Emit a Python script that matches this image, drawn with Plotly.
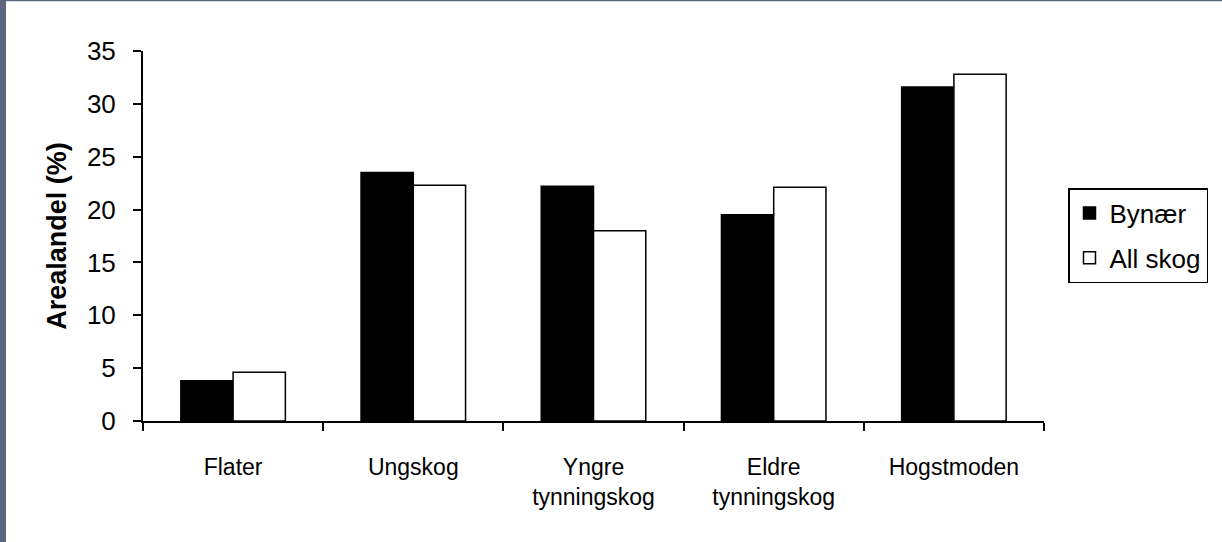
import plotly.graph_objects as go

categories = ["Flater", "Ungskog", "Yngre<br>tynningskog", "Eldre<br>tynningskog", "Hogstmoden"]
bynaer = [3.8, 23.5, 22.2, 19.5, 31.6]
all_skog = [4.6, 22.3, 18.0, 22.1, 32.8]
series_names = ["Bynær", "All skog"]
y_ticks = [0, 5, 10, 15, 20, 25, 30, 35]

W, H = 1222, 542
L, R, T, B = 143, 178, 51, 121
pw = W - L - R
ph = H - T - B

FONT = "Liberation Sans, Arial, sans-serif"

fig = go.Figure()
fig.add_trace(go.Bar(
    x=categories, y=bynaer, name=series_names[0], legendgroup="a",
    marker=dict(color="black", line=dict(color="black", width=1.5)),
))
fig.add_trace(go.Bar(
    x=categories, y=all_skog, name=series_names[1], legendgroup="b",
    marker=dict(color="white", line=dict(color="black", width=1.5)),
))

border = "#5c6680"
shapes = [
    dict(type="rect", xref="paper", yref="paper", layer="above",
         x0=-L / pw, x1=(6 - L) / pw, y0=-B / ph, y1=(H - B) / ph,
         fillcolor=border, line=dict(width=0)),
    dict(type="rect", xref="paper", yref="paper", layer="above",
         x0=-L / pw, x1=(W - L) / pw, y0=(H - B - 1.2) / ph, y1=(H - B) / ph,
         fillcolor=border, line=dict(width=0)),
]

fig.update_layout(
    width=W, height=H,
    margin=dict(l=L, r=R, t=T, b=B, autoexpand=False),
    paper_bgcolor="white", plot_bgcolor="white",
    font=dict(family=FONT, color="black", size=23),
    barmode="group", bargap=0.42, bargroupgap=0,
    showlegend=True,
    legend=dict(
        x=(1068 - L) / pw, y=(H - B - 188) / ph, xanchor="left", yanchor="top",
        bordercolor="black", borderwidth=1.5, bgcolor="white",
        font=dict(family=FONT, size=26),
        traceorder="grouped", tracegroupgap=8,
    ),
    shapes=shapes,
)

fig.update_xaxes(
    type="category", showline=True, linecolor="black", linewidth=2,
    ticks="outside", tickson="boundaries", ticklen=8, tickwidth=1.5, tickcolor="black",
    tickfont=dict(family=FONT, size=23), showgrid=False, zeroline=False,
    ticklabelstandoff=24,
)
fig.update_yaxes(
    range=[0, 35], tickvals=y_ticks, showline=True, linecolor="black", linewidth=2,
    ticks="outside", ticklen=8, tickwidth=1.5, tickcolor="black",
    tickfont=dict(family=FONT, size=26), showgrid=False, zeroline=False,
    ticklabelstandoff=12,
    title=dict(text="<b>Arealandel (%)</b>", font=dict(family=FONT, size=27), standoff=12),
)

fig.write_html(
    "out.html",
    config={"displayModeBar": False},
    post_script="document.body.style.margin='0';document.body.style.overflow='hidden';",
)
